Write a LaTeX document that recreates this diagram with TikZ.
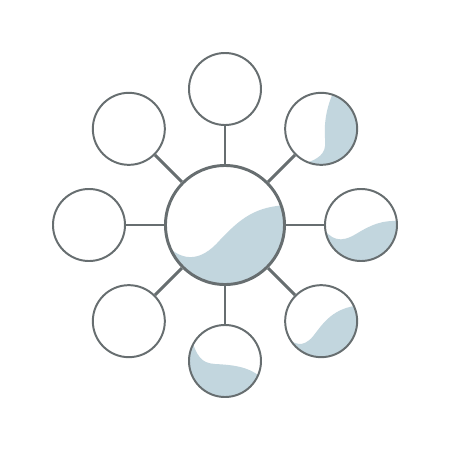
\documentclass[tikz,border=0pt]{standalone}
\usetikzlibrary{calc}
\definecolor{rim}{RGB}{103,110,112}
\definecolor{water}{RGB}{194,214,222}
\tikzset{
  hub/.style={circle,draw=rim,line width=2.1pt,fill=white,minimum size=2.975cm,inner sep=0pt},
  leaf/.style={circle,draw=rim,line width=1.4pt,fill=white,minimum size=1.8cm,inner sep=0pt},
  spoke/.style={draw=rim,line width=2.1pt},
  wave/.style={path picture={\fill[water,shift={(path picture bounding box.center)}] #1;}}
}

\begin{document}
\begin{tikzpicture}[x=0.025cm,y=0.025cm]
  \useasboundingbox (-225,-225) rectangle (225,225);
  % centre
  \node[hub,wave={(-64,-14) .. controls (-45,-38) and (-25,-38) .. (-5,-15)
    .. controls (15,6) and (30,19) .. (64,20) -- (64,-64) -- (-64,-64) -- cycle}] (hub) at (0,0) {};
  % ring
  \node[leaf,wave={(-40,0) .. controls (-30,-16) and (-20,-18) .. (-5,-9)
    .. controls (10,0) and (20,5) .. (40,4) -- (40,-40) -- (-40,-40) -- cycle}] (n0) at (0:136) {};
  \node[leaf,wave={(15,42) .. controls (3,20) and (3,0) .. (4,-12)
    .. controls (5,-25) and (-2,-31) .. (-22,-36) -- (40,-40) -- (40,42) -- cycle}] (n1) at (45:136) {};
  \node[leaf] (n2) at (90:136) {};
  \node[leaf] (n3) at (135:136) {};
  \node[leaf] (n4) at (180:136) {};
  \node[leaf] (n5) at (225:136) {};
  \node[leaf,wave={(-35,26) .. controls (-28,4) and (-24,-2) .. (-10,-3)
    .. controls (10,-4) and (25,-6) .. (38,-18) -- (40,-40) -- (-40,-40) -- cycle}] (n6) at (270:136) {};
  \node[leaf,wave={(-40,-10) .. controls (-28,-25) and (-18,-27) .. (-8,-15)
    .. controls (2,-2) and (12,14) .. (40,16) -- (40,-40) -- (-40,-40) -- cycle}] (n7) at (315:136) {};
  \foreach \i in {0,...,7}
    \draw[spoke] (hub) -- (n\i);
\end{tikzpicture}
\end{document}
